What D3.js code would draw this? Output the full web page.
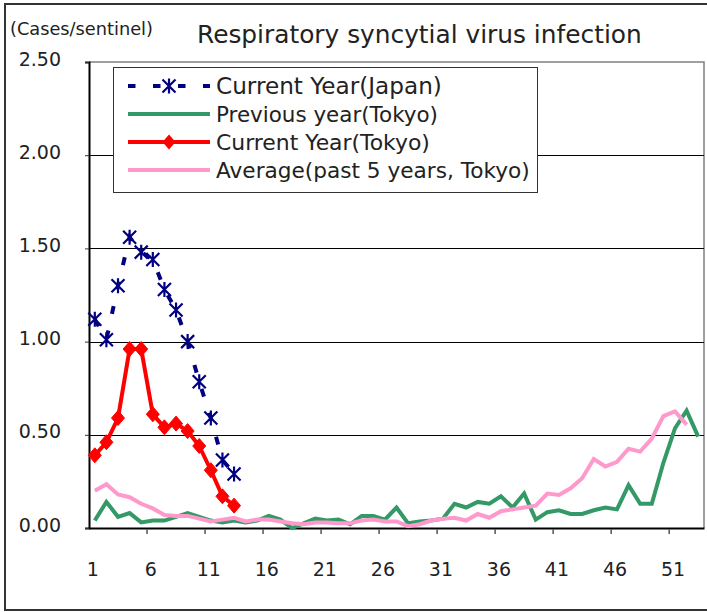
<!DOCTYPE html>
<html><head><meta charset="utf-8">
<script src="https://cdn.jsdelivr.net/npm/d3@7/dist/d3.min.js"></script>
<style>html,body{margin:0;padding:0;background:#fff;} svg{display:block;font-family:"DejaVu Sans",sans-serif;}</style>
</head><body>
<script>
const weeks = d3.range(1, 54);
const xTickLabels = [1, 6, 11, 16, 21, 26, 31, 36, 41, 46, 51];
const yTicks = [0, 0.5, 1.0, 1.5, 2.0, 2.5];
const seriesNames = ["Current Year(Japan)", "Previous year(Tokyo)", "Current Year(Tokyo)", "Average(past 5 years, Tokyo)"];
const japanCurrent = [1.12,1.01,1.30,1.56,1.48,1.44,1.28,1.17,1.00,0.785,0.59,0.365,0.29];
const tokyoPrevious = [0.04,0.14,0.06,0.08,0.03,0.04,0.04,0.06,0.08,0.06,0.04,0.03,0.04,0.03,0.04,0.065,0.045,0.0,0.025,0.05,
  0.04,0.045,0.02,0.065,0.065,0.045,0.11,0.025,0.035,0.04,0.05,0.13,0.11,0.14,0.13,0.17,0.11,0.185,0.045,0.085,
  0.095,0.075,0.075,0.095,0.11,0.10,0.23,0.13,0.13,0.35,0.535,0.63,0.49];
const tokyoCurrent = [0.39,0.46,0.59,0.96,0.96,0.61,0.54,0.56,0.52,0.44,0.31,0.17,0.12];
const tokyoAverage = [0.20,0.235,0.18,0.165,0.13,0.105,0.07,0.065,0.065,0.05,0.035,0.045,0.055,0.035,0.045,0.045,0.035,0.025,0.02,0.03,
  0.03,0.025,0.025,0.04,0.045,0.035,0.035,0.01,0.02,0.04,0.05,0.055,0.04,0.075,0.055,0.09,0.10,0.11,0.12,0.185,
  0.177,0.213,0.267,0.37,0.33,0.355,0.425,0.41,0.48,0.60,0.625,0.555];

const W = 707, H = 612;
const svg = d3.select("body").append("svg").attr("width", W).attr("height", H);

// outer frame
svg.append("rect").attr("x", 5).attr("y", 4).attr("width", 712).attr("height", 606)
  .attr("fill", "#fff").attr("stroke", "#333").attr("stroke-width", 2);

const x = d3.scaleBand().domain(weeks).range([89, 704]);
const y = d3.scaleLinear().domain([0, 2.5]).range([528, 62]);
const cx = d => x(d) + x.bandwidth() / 2;

function fit(sel, target) {
  const n = sel.node();
  const w = n.getComputedTextLength();
  const fs = parseFloat(sel.attr("font-size"));
  sel.attr("font-size", (fs * target / w).toFixed(2));
}

// plot border (top/right)
svg.append("path").attr("d", `M89,${y(2.5)}H704V528`).attr("fill", "none").attr("stroke", "#808080").attr("stroke-width", 1.5);

// gridlines
svg.append("g").selectAll("line").data(yTicks.filter(v => v > 0 && v < 2.5)).join("line")
  .attr("x1", 89).attr("x2", 704).attr("y1", d => Math.round(y(d)) + 0.5).attr("y2", d => Math.round(y(d)) + 0.5)
  .attr("stroke", "#000").attr("stroke-width", 1);

// y axis
const yAxis = svg.append("g").attr("transform", "translate(89,0)")
  .call(d3.axisLeft(y).tickValues(yTicks).tickFormat(d3.format(".2f")).tickSize(4).tickPadding(24));
yAxis.select(".domain").attr("stroke", "#000").attr("stroke-width", 2);
yAxis.selectAll(".tick line").attr("stroke", "#333");
yAxis.selectAll(".tick text").attr("font-size", 19).attr("fill", "#222").attr("font-family", "DejaVu Sans").attr("y", -3);

// x axis
const xAxis = svg.append("g").attr("transform", "translate(0,528)")
  .call(d3.axisBottom(x).tickValues(xTickLabels).tickSize(0).tickPadding(35));
xAxis.select(".domain").attr("stroke", "#000").attr("stroke-width", 2);
xAxis.selectAll(".tick text").attr("font-size", 19).attr("fill", "#222").attr("font-family", "DejaVu Sans").attr("dx", -2);
svg.append("g").selectAll("line").data(xTickLabels.filter(d => d > 1)).join("line")
  .attr("x1", d => x(d)).attr("x2", d => x(d)).attr("y1", 529).attr("y2", 534)
  .attr("stroke", "#555").attr("stroke-width", 1.5);

// lines
const line = d3.line().x((d, i) => cx(i + 1)).y(d => y(d));
const starPath = "M-6.5,-6.5L6.5,6.5M-6.5,6.5L6.5,-6.5M0,-7.5L0,7.5";
const diamondPath = "M0,-7.5L6.5,0L0,7.5L-6.5,0Z";

// Japan
svg.append("path").datum(japanCurrent).attr("d", line).attr("fill", "none")
  .attr("stroke", "#000080").attr("stroke-width", 4).attr("stroke-dasharray", "8,17");
svg.append("g").selectAll("path").data(japanCurrent).join("path")
  .attr("transform", (d, i) => `translate(${cx(i + 1)},${y(d)})`).attr("d", starPath)
  .attr("fill", "none").attr("stroke", "#000080").attr("stroke-width", 2.2);

// previous Tokyo
svg.append("path").datum(tokyoPrevious).attr("d", line).attr("fill", "none")
  .attr("stroke", "#339966").attr("stroke-width", 4).attr("stroke-linejoin", "miter");

// current Tokyo
svg.append("path").datum(tokyoCurrent).attr("d", line).attr("fill", "none")
  .attr("stroke", "#ff0000").attr("stroke-width", 4);
svg.append("g").selectAll("path").data(tokyoCurrent).join("path")
  .attr("transform", (d, i) => `translate(${cx(i + 1)},${y(d)})`).attr("d", diamondPath)
  .attr("fill", "#ff0000").attr("stroke", "#ff0000").attr("stroke-width", 1);

// average
svg.append("path").datum(tokyoAverage).attr("d", line).attr("fill", "none")
  .attr("stroke", "#ff99cc").attr("stroke-width", 4);

// titles
const title = svg.append("text").attr("x", 197).attr("y", 43).attr("font-size", 22).attr("fill", "#222")
  .text("Respiratory syncytial virus infection");
fit(title, 445);
const ylab = svg.append("text").attr("x", 10).attr("y", 35).attr("font-size", 15).attr("fill", "#222")
  .text("(Cases/sentinel)");
fit(ylab, 143);

// legend
const lg = svg.append("g");
lg.append("rect").attr("x", 113.5).attr("y", 67.5).attr("width", 424).attr("height", 125)
  .attr("fill", "#fff").attr("stroke", "#333").attr("stroke-width", 1);
const rowY = [86, 114, 142, 170];
const targetW = [226, 222, 214, 314];
// Japan sample
lg.append("line").attr("x1", 128).attr("x2", 210).attr("y1", rowY[0]).attr("y2", rowY[0])
  .attr("stroke", "#000080").attr("stroke-width", 4).attr("stroke-dasharray", "7.5,17.5");
lg.append("path").attr("transform", `translate(169,${rowY[0]})`).attr("d", starPath)
  .attr("fill", "none").attr("stroke", "#000080").attr("stroke-width", 2.2);
lg.append("line").attr("x1", 128).attr("x2", 210).attr("y1", rowY[1]).attr("y2", rowY[1])
  .attr("stroke", "#339966").attr("stroke-width", 4);
lg.append("line").attr("x1", 128).attr("x2", 210).attr("y1", rowY[2]).attr("y2", rowY[2])
  .attr("stroke", "#ff0000").attr("stroke-width", 4);
lg.append("path").attr("transform", `translate(169,${rowY[2]})`).attr("d", diamondPath).attr("fill", "#ff0000");
lg.append("line").attr("x1", 128).attr("x2", 210).attr("y1", rowY[3]).attr("y2", rowY[3])
  .attr("stroke", "#ff99cc").attr("stroke-width", 4);
seriesNames.forEach((s, i) => {
  const t = lg.append("text").attr("x", 216).attr("y", rowY[i]).attr("dy", "0.36em")
    .attr("font-size", 22).attr("fill", "#222").text(s);
  fit(t, targetW[i]);
});
</script>
</body></html>
